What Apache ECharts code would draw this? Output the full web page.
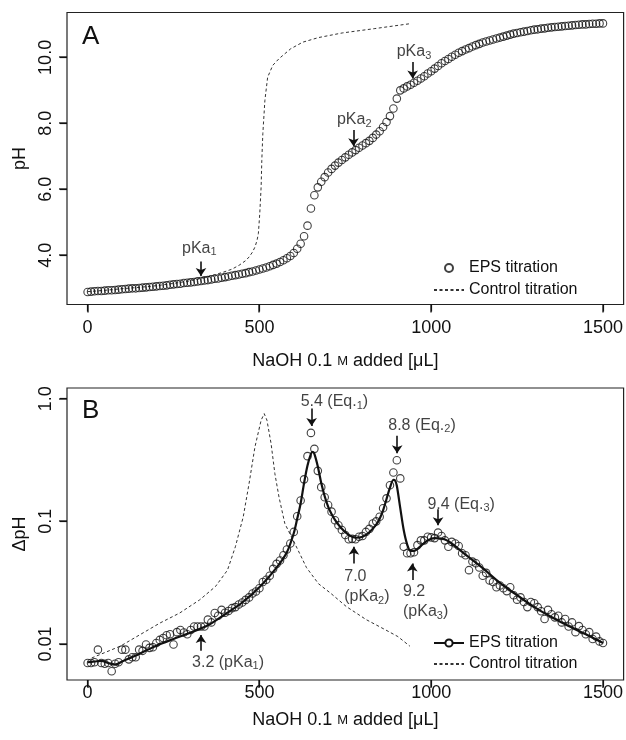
<!DOCTYPE html>
<html><head><meta charset="utf-8">
<script src="https://cdn.jsdelivr.net/npm/echarts@6/dist/echarts.min.js"></script>
<style>html,body{margin:0;padding:0;background:#fff}#c{width:626px;height:740px}</style>
</head><body><div id="c"></div>
<script>
// ---------- DATA ----------
const volume = [
 0,10,20,30,40,50,60,70,80,90,100,110,120,130,140,150,160,170,180,190,
 200,210,220,230,240,250,260,270,280,290,300,310,320,330,340,350,360,370,380,390,
 400,410,420,430,440,450,460,470,480,490,500,510,520,530,540,550,560,570,580,590,
 600,610,620,630,640,650,660,670,680,690,700,710,720,730,740,750,760,770,780,790,
 800,810,820,830,840,850,860,870,880,890,900,910,920,930,940,950,960,970,980,990,
 1000,1010,1020,1030,1040,1050,1060,1070,1080,1090,1100,1110,1120,1130,1140,1150,1160,1170,1180,1190,
 1200,1210,1220,1230,1240,1250,1260,1270,1280,1290,1300,1310,1320,1330,1340,1350,1360,1370,1380,1390,
 1400,1410,1420,1430,1440,1450,1460,1470,1480,1490,1500];

const phEPS = [
 2.89,2.90,2.91,2.92,2.92,2.93,2.94,2.94,2.95,2.96,
 2.97,2.98,2.99,3.00,3.00,3.01,3.02,3.03,3.04,3.05,
 3.06,3.07,3.08,3.09,3.11,3.12,3.13,3.14,3.16,3.17,
 3.18,3.19,3.21,3.22,3.24,3.25,3.27,3.29,3.30,3.32,
 3.34,3.36,3.38,3.40,3.42,3.44,3.46,3.49,3.51,3.54,
 3.57,3.60,3.63,3.67,3.71,3.75,3.80,3.85,3.91,3.98,
 4.07,4.20,4.35,4.58,4.90,5.42,5.82,6.06,6.23,6.37,
 6.51,6.62,6.72,6.81,6.89,6.97,7.05,7.12,7.19,7.26,
 7.33,7.40,7.47,7.56,7.66,7.76,7.89,8.04,8.22,8.45,
 8.75,9.00,9.06,9.12,9.17,9.23,9.29,9.36,9.43,9.51,
 9.58,9.66,9.74,9.82,9.89,9.95,10.02,10.08,10.14,10.19,
 10.24,10.28,10.33,10.37,10.41,10.45,10.48,10.51,10.54,10.57,
 10.60,10.63,10.66,10.69,10.72,10.74,10.76,10.78,10.80,10.82,
 10.84,10.85,10.87,10.88,10.90,10.91,10.92,10.93,10.94,10.95,
 10.96,10.97,10.98,10.99,11.00,11.00,11.01,11.02,11.02,11.03,
 11.03];

const ctrlVolumeA = [0,50,100,150,200,250,300,330,360,395,420,441,460,470,480,487,493,497,501,505,507,510,516,524,539,557,591,626,672,741,834,938];
const ctrlPhA     = [2.90,2.94,2.99,3.03,3.08,3.15,3.23,3.30,3.38,3.49,3.58,3.70,3.84,3.95,4.10,4.25,4.45,4.66,5.26,6.07,6.88,7.69,8.70,9.40,9.76,9.96,10.26,10.46,10.60,10.74,10.87,11.02];

const dPhEPS = [
 0.0070,0.0070,0.0071,0.0090,0.0070,0.0069,0.0070,0.0060,0.0069,0.0071,
 0.0090,0.0090,0.0075,0.0078,0.0078,0.0090,0.0088,0.0099,0.0093,0.0094,
 0.0102,0.0108,0.0112,0.0118,0.0120,0.0099,0.0125,0.0130,0.0124,0.0120,
 0.0130,0.0139,0.0139,0.0139,0.0139,0.0158,0.0150,0.0179,0.0170,0.0190,
 0.0180,0.0186,0.0196,0.0200,0.0210,0.0218,0.0229,0.0240,0.0258,0.0268,
 0.0285,0.0320,0.0334,0.0360,0.0410,0.0450,0.0480,0.0530,0.0590,0.0660,
 0.0820,0.1100,0.1480,0.2200,0.3400,0.5260,0.3900,0.2580,0.1900,0.1570,
 0.1360,0.1200,0.1020,0.0930,0.0850,0.0775,0.0714,0.0720,0.0714,0.0750,
 0.0760,0.0820,0.0868,0.0960,0.1000,0.1090,0.1280,0.1540,0.1970,0.2500,
 0.3150,0.2240,0.0620,0.0550,0.0550,0.0560,0.0640,0.0700,0.0700,0.0750,
 0.0740,0.0730,0.0810,0.0760,0.0700,0.0620,0.0680,0.0660,0.0630,0.0550,
 0.0530,0.0400,0.0470,0.0455,0.0420,0.0360,0.0380,0.0330,0.0320,0.0290,
 0.0300,0.0285,0.0270,0.0290,0.0250,0.0230,0.0240,0.0220,0.0200,0.0220,
 0.0215,0.0200,0.0185,0.0160,0.0190,0.0175,0.0165,0.0170,0.0150,0.0160,
 0.0139,0.0150,0.0125,0.0140,0.0130,0.0120,0.0125,0.0110,0.0115,0.0105,
 0.0102];

const fitVolume = [0,20,40,60,80,100,150,200,250,300,350,400,450,500,550,580,600,610,620,630,640,650,655,660,670,680,690,700,710,720,740,760,780,800,820,840,850,860,870,880,890,895,900,910,920,930,940,950,970,990,1010,1030,1050,1075,1100,1150,1200,1250,1300,1350,1400,1450,1500];
const fitDPh = [0.0071,0.0072,0.0073,0.0070,0.0068,0.0072,0.0083,0.0097,0.0110,0.0124,0.0142,0.0175,0.0218,0.0290,0.0420,0.0560,0.0800,0.1050,0.1400,0.2050,0.2850,0.3550,0.3680,0.3550,0.2800,0.2050,0.1600,0.1320,0.1150,0.1030,0.0870,0.0775,0.0735,0.0750,0.0815,0.0940,0.1050,0.1230,0.1520,0.1880,0.2180,0.2150,0.1950,0.1280,0.0850,0.0650,0.0575,0.0575,0.0630,0.0700,0.0730,0.0725,0.0690,0.0610,0.0535,0.0415,0.0315,0.0250,0.0200,0.0166,0.0140,0.0120,0.0102];

const ctrlVolumeB = [12,95,210,268,326,372,407,430,453,470,487,505,514,522,534,545,557,574,603,637,672,707,753,811,868,903,938];
const ctrlDPhB    = [0.0077,0.0096,0.0148,0.0179,0.0229,0.0294,0.040,0.062,0.109,0.204,0.404,0.667,0.755,0.667,0.43,0.245,0.158,0.096,0.066,0.042,0.031,0.026,0.0202,0.0158,0.0130,0.0115,0.0096];

const xTicks = [0, 500, 1000, 1500];
const phTicks = [4, 6, 8, 10];
const dPhTicks = [0.01, 0.1, 1];

// annotations (text + arrow) in data coordinates
const annotA = [
  {text:'pKa{s|1}', at:[325, 4.21], arrow:[[330,3.81],[330,3.37]]},
  {text:'pKa{s|2}', at:[776, 8.11], arrow:[[774,7.80],[774,7.31]]},
  {text:'pKa{s|3}', at:[950, 10.16], arrow:[[946,9.86],[946,9.36]]}
];
const annotB = [
  {text:'5.4 (Eq.{s|1})', at:[620, 0.944], arrow:[[652,0.83],[652,0.60]]},
  {text:'8.8 (Eq.{s|2})', at:[875, 0.607], arrow:[[901,0.499],[901,0.359]]},
  {text:'9.4 (Eq.{s|3})', at:[989, 0.138], arrow:[[1020,0.1257],[1020,0.0931]]},
  {text:'7.0\n(pKa{s|2})', at:[747, 0.0293], arrow:[[775,0.0454],[775,0.0620]]},
  {text:'9.2\n(pKa{s|3})', at:[918, 0.0221], arrow:[[945,0.0332],[945,0.0454]]},
  {text:'3.2 (pKa{s|1})', at:[304, 0.0071], arrow:[[330,0.00881],[330,0.01183]]}
];

// ---------- CHART ----------
const FONT = '"Liberation Sans", Arial, Helvetica, sans-serif';
const INK = '#111';
const zip = (a, b) => a.map((v, i) => [v, b[i]]);
const rich = {
  n: {fontSize: 16, color: INK, fontFamily: FONT, lineHeight: 20, textBorderWidth: 0},
  s: {fontSize: 11, color: INK, fontFamily: FONT, padding: [8, 0, 0, 0], textBorderWidth: 0}
};
function annotSeries(list, xi, yi) {
  return {
    type: 'scatter', name: 'annot' + xi, xAxisIndex: xi, yAxisIndex: yi,
    symbolSize: 1, itemStyle: {color: 'rgba(0,0,0,0)'}, silent: true, z: 5,
    data: list.map(a => ({
      value: a.at,
      label: {show: true, position: 'inside', formatter: a.text.split('\n').map(l => l.replace(/^([^{]+)/, '{n|$1}').replace(/\)$/, '{n|)}')).join('\n'),
        align: xi === 0 ? 'center' : 'left', verticalAlign: 'middle', rich: rich, color: INK, fontSize: 16, fontFamily: FONT, lineHeight: 20,
        textBorderWidth: 0}
    })),
    markLine: {
      silent: true, symbol: ['none', 'arrow'], symbolSize: 8, animation: false,
      lineStyle: {color: INK, width: 1.6, type: 'solid'}, label: {show: false},
      emphasis: {disabled: true},
      data: list.map(a => [{coord: a.arrow[0]}, {coord: a.arrow[1]}])
    }
  };
}
function xAxis(gi, margin, nameGap) {
  return {
    type: 'value', gridIndex: gi, min: -60, max: 1560,
    axisLine: {show: false, onZero: false}, splitLine: {show: false},
    axisTick: {show: true, length: 7, lineStyle: {color: INK, width: 1.2}, customValues: xTicks},
    axisLabel: {customValues: xTicks, fontSize: 18, color: INK, fontFamily: FONT, margin: margin,
      formatter: v => String(Math.round(v))},
    name: 'NaOH 0.1 {sc|M} added [μL]', nameLocation: 'middle', nameGap: nameGap,
    nameTextStyle: {fontSize: 18, color: INK, fontFamily: FONT, verticalAlign: 'top',
      rich: {sc: {fontSize: 13, color: INK, fontFamily: FONT}}}
  };
}
function yAxis(gi, type, min, max, ticks, fmt, name, nameGap) {
  const ax = {
    type: type, gridIndex: gi, min: min, max: max,
    axisLine: {show: false, onZero: false}, splitLine: {show: false},
    axisTick: {show: true, length: 7, lineStyle: {color: INK, width: 1.2}, customValues: ticks},
    axisLabel: {customValues: ticks, rotate: 90, margin: 12, fontSize: 18, color: INK, fontFamily: FONT, formatter: fmt},
    name: name, nameLocation: 'middle', nameGap: nameGap, nameRotate: 90,
    nameTextStyle: {fontSize: 18, color: INK, fontFamily: FONT}
  };
  if (type === 'log') ax.logBase = 10;
  return ax;
}
const hideDot = {color: 'rgba(0,0,0,0)', borderWidth: 0, borderColor: 'rgba(0,0,0,0)'};
const chart = echarts.init(document.getElementById('c'));
chart.setOption({
  animation: false,
  backgroundColor: '#fff',
  title: [
    {text: 'A', left: 77, top: 19, textStyle: {fontSize: 26, fontWeight: 'normal', color: INK, fontFamily: FONT}},
    {text: 'B', left: 77, top: 393, textStyle: {fontSize: 26, fontWeight: 'normal', color: INK, fontFamily: FONT}}
  ],
  grid: [
    {left: 67, right: 0.5, top: 12.5, height: 292, show: true, borderColor: '#222', borderWidth: 1.2, backgroundColor: 'transparent'},
    {left: 67, right: 0.5, top: 388, height: 292, show: true, borderColor: '#222', borderWidth: 1.2, backgroundColor: 'transparent'}
  ],
  xAxis: [xAxis(0, 15, 48), xAxis(1, 4, 31)],
  yAxis: [
    yAxis(0, 'value', 2.51, 11.36, phTicks, v => Number(v).toFixed(1), 'pH', 37),
    yAxis(1, 'log', 0.00509, 1.222, dPhTicks, v => (Math.abs(v - 1) < 1e-6 ? '1.0' : (Math.abs(v - 0.1) < 1e-6 ? '0.1' : '0.01')), 'ΔpH', 38)
  ],
  legend: [
    {orient: 'vertical', left: 428, top: 255, itemWidth: 30, itemHeight: 8, itemGap: 6,
     data: ['EPS titration', {name: 'Control titration', itemStyle: hideDot}], selectedMode: false,
     textStyle: {fontSize: 16, color: INK, fontFamily: FONT}},
    {orient: 'vertical', left: 428, top: 630, itemWidth: 30, itemHeight: 9, itemGap: 5,
     data: ['EPS titration (B)', {name: 'Control titration (B)', itemStyle: hideDot}], selectedMode: false,
     formatter: n => n.replace(' (B)', ''),
     textStyle: {fontSize: 16, color: INK, fontFamily: FONT}}
  ],
  series: [
    {type: 'line', name: 'Control titration', xAxisIndex: 0, yAxisIndex: 0,
     data: zip(ctrlVolumeA, ctrlPhA), showSymbol: false, symbol: 'none', z: 2,
     lineStyle: {color: '#333', width: 1, type: [3, 2.5]}, itemStyle: {color: '#333'}},
    {type: 'scatter', name: 'EPS titration', xAxisIndex: 0, yAxisIndex: 0,
     data: zip(volume, phEPS), symbol: 'circle', symbolSize: 7.5, z: 3,
     itemStyle: {color: 'rgba(0,0,0,0)', borderColor: '#111', borderWidth: 1.1}},
    {type: 'line', name: 'Control titration (B)', xAxisIndex: 1, yAxisIndex: 1,
     data: zip(ctrlVolumeB, ctrlDPhB), showSymbol: false, symbol: 'none', z: 2,
     lineStyle: {color: '#333', width: 1, type: [3, 2.5]}, itemStyle: {color: '#333'}},
    {type: 'line', name: 'EPS titration (B)', xAxisIndex: 1, yAxisIndex: 1,
     data: zip(fitVolume, fitDPh), showSymbol: false, symbol: 'circle', smooth: 0.3, z: 4,
     lineStyle: {color: '#111', width: 2.2}, itemStyle: {color: '#fff', borderColor: '#111', borderWidth: 1}},
    {type: 'scatter', name: 'EPS points', xAxisIndex: 1, yAxisIndex: 1,
     data: zip(volume, dPhEPS), symbol: 'circle', symbolSize: 7.5, z: 3,
     itemStyle: {color: 'rgba(0,0,0,0)', borderColor: '#111', borderWidth: 1.1}},
    annotSeries(annotA, 0, 0),
    annotSeries(annotB, 1, 1)
  ]
});

// Outward tick marks placed through the axes' own scales (kept on top so they always show)
(function addTicks() {
  const els = [];
  const yMin = [2.51, 0.00509];
  [0, 1].forEach(gi => {
    const yb = chart.convertToPixel({yAxisIndex: gi}, yMin[gi]);
    const xl = chart.convertToPixel({xAxisIndex: gi}, -60);
    xTicks.forEach(v => {
      const x = Math.round(chart.convertToPixel({xAxisIndex: gi}, v));
      els.push({type: 'line', silent: true, z: 100, shape: {x1: x, y1: yb, x2: x, y2: yb + 8},
        style: {stroke: INK, lineWidth: 1.3}});
    });
    (gi === 0 ? phTicks : dPhTicks).forEach(v => {
      const y = Math.round(chart.convertToPixel({yAxisIndex: gi}, v));
      els.push({type: 'line', silent: true, z: 100, shape: {x1: xl - 8, y1: y, x2: xl, y2: y},
        style: {stroke: INK, lineWidth: 1.3}});
    });
  });
  chart.setOption({graphic: els});
})();
</script></body></html>
